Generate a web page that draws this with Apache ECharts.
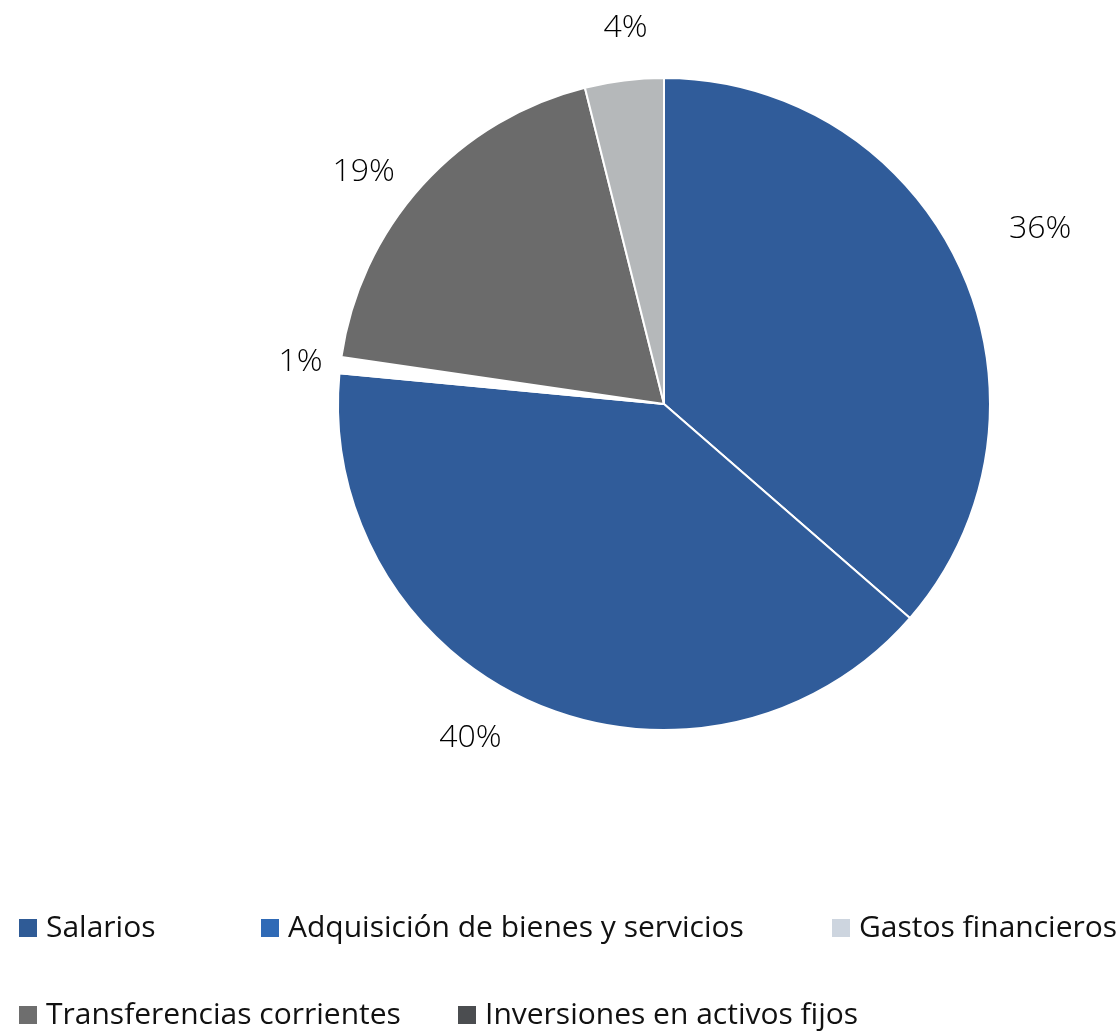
<!DOCTYPE html>
<html>
<head>
<meta charset="utf-8">
<script src="https://cdn.jsdelivr.net/npm/echarts@6/dist/echarts.min.js"></script>
<style>
html,body{margin:0;padding:0;background:#fff;}
#chart{width:1120px;height:1034px;}
</style>
</head>
<body>
<div id="chart"></div>
<script>
const categories = ['Salarios', 'Adquisición de bienes y servicios', 'Gastos financieros', 'Transferencias corrientes', 'Inversiones en activos fijos'];
const values = [36.4, 40.1, 0.8, 18.8, 3.9];
const sliceColors = ['#305C9A', '#305C9A', '#FFFFFF', '#6B6B6B', '#B5B8BA'];
const legendColors = ['#2F5B96', '#2F6AB6', '#CDD5DF', '#6E6E6E', '#4B4D50'];

const FONT = '"Open Sans", "Noto Sans", sans-serif';
const legendPlaces = [
  { left: 17, top: 913 }, { left: 259, top: 913 }, { left: 830, top: 913 },
  { left: 17, top: 1000 }, { left: 456, top: 1000 }
];
const labelShift = [[16, -28], [-17, 7], [17, 0], [0, 7], [32, -23]];

const chart = echarts.init(document.getElementById('chart'), null, { renderer: 'canvas' });
chart.setOption({
  animation: false,
  backgroundColor: '#ffffff',
  legend: categories.map((c, i) => ({
    data: [{ name: c, itemStyle: { color: legendColors[i] } }],
    left: legendPlaces[i].left,
    top: legendPlaces[i].top,
    padding: 0,
    icon: 'rect',
    itemWidth: 20,
    itemHeight: 20,
    selectedMode: false,
    textStyle: { fontFamily: FONT, fontSize: 30, color: '#111111', lineHeight: 28, padding: [0, 0, 0, 3] }
  })),
  series: [{
    type: 'pie',
    center: [664, 404],
    radius: 326,
    startAngle: 90,
    clockwise: true,
    avoidLabelOverlap: false,
    data: categories.map((c, i) => ({ name: c, value: values[i], itemStyle: { color: sliceColors[i] } })),
    itemStyle: { borderColor: '#ffffff', borderWidth: 2 },
    label: {
      show: true,
      position: 'outside',
      formatter: p => Math.round(p.percent) + '%',
      fontFamily: FONT,
      fontSize: 32,
      fontWeight: 300,
      color: '#000000'
    },
    labelLine: { show: false, length: 30, length2: 0 },
    labelLayout: p => ({ dx: labelShift[p.dataIndex][0], dy: labelShift[p.dataIndex][1] }),
    emphasis: { disabled: true }
  }]
});
</script>
</body>
</html>
